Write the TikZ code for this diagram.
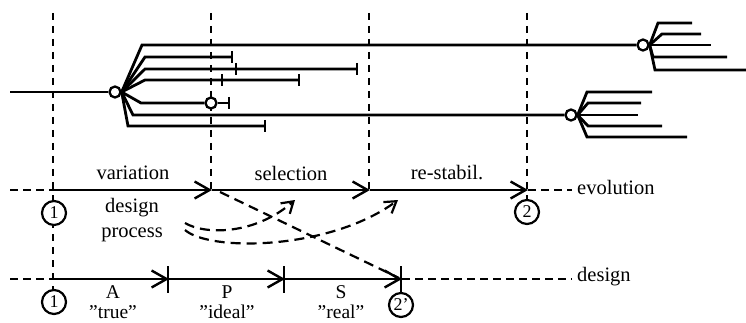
\documentclass[tikz,border=0pt]{standalone}
\usepackage{fontspec}
\setmainfont{Liberation Serif}
\usetikzlibrary{arrows.meta}
\begin{document}
\begin{tikzpicture}[x=1pt,y=-1pt,
  tree/.style={line width=2.8pt},
  knot/.style={circle,draw,line width=2.3pt,fill=white,minimum size=11pt,inner sep=0pt},
  bar/.style={line width=2.5pt},
  guide/.style={line width=1.8pt,dash pattern=on 7pt off 6pt},
  hdash/.style={line width=2.2pt,dash pattern=on 8pt off 5pt},
  evo/.style={line width=2.4pt,-{Straight Barb[length=15pt,width=17pt]}},
  dcurve/.style={line width=2.2pt,dash pattern=on 10pt off 6pt},
  dcarrow/.style={dcurve,-{Straight Barb[length=11pt,width=14pt]}},
  num/.style={circle,draw,line width=2.2pt,fill=white,minimum size=24pt,inner sep=0pt,font=\fontsize{18}{18}\selectfont},
  lbl/.style={font=\fontsize{20.5}{24}\selectfont,inner sep=0pt},
  plbl/.style={font=\fontsize{19.5}{20}\selectfont,inner sep=0pt,align=center,anchor=base}
]
\useasboundingbox (0,0) rectangle (746,323);

% vertical guides
\coordinate (g1t) at (53,13); \coordinate (g1b) at (53,292);
\coordinate (g2t) at (211,13); \coordinate (g2b) at (211,190);
\coordinate (g3t) at (369,13); \coordinate (g3b) at (369,190);
\coordinate (g4t) at (527,13); \coordinate (g4b) at (527,200);
\draw[guide] (g1t) -- (g1b);
\draw[guide] (g2t) -- (g2b);
\draw[guide] (g3t) -- (g3b);
\draw[guide] (g4t) -- (g4b);

% tree
\node[knot] (k0) at (115,92) {};
\node[knot] (k1) at (643,45) {};
\node[knot] (k2) at (211,103) {};
\node[knot] (k3) at (571,115) {};
\coordinate (root) at (10,92);
\draw[tree] (root) -- (k0.west);
\draw[tree] (k0.east) -- (142,45) -- (k1.west);
\draw[tree] (k0.east) -- (145,57) -- (232,57);
\draw[tree] (k0.east) -- (145,69) -- (357,69);
\draw[tree] (k0.east) -- (145,80) -- (299,80);
\draw[tree] (k0.east) -- (141,103) -- (k2.west);
\draw[tree] (k2.east) -- (229,103);
\draw[tree] (k0.east) -- (133,115) -- (k3.west);
\draw[tree] (k0.east) -- (128,126) -- (265,126);
\foreach \x/\y in {232/57,357/69,236/69,299/80,222/80,229/103,265/126}
  \draw[bar] (\x,\y-6) -- (\x,\y+6);

\draw[tree] (k1.east) -- (658,23) -- (692,23);
\draw[tree] (k1.east) -- (662,34) -- (701,34);
\draw[tree] (k1.east) -- (711,45);
\draw[tree] (k1.east) -- (653,57) -- (727,57);
\draw[tree] (k1.east) -- (655,70) -- (746,70);

\draw[tree] (k3.east) -- (587,92) -- (652,92);
\draw[tree] (k3.east) -- (588,103) -- (641,103);
\draw[tree] (k3.east) -- (638,115);
\draw[tree] (k3.east) -- (588,126) -- (662,126);
\draw[tree] (k3.east) -- (587,137) -- (687,137);

% evolution line
\coordinate (e0) at (10,190);
\coordinate (e1) at (53,190);
\coordinate (e2) at (212,190);
\coordinate (e3) at (370,190);
\coordinate (e4) at (528,190);
\coordinate (e5) at (572,190);
\draw[hdash] (e0) -- (e1);
\draw[evo] (e1) -- (e2);
\draw[evo] (e2) -- (e3);
\draw[evo] (e3) -- (e4);
\draw[hdash] (e4) -- (e5);

% design line
\coordinate (d0) at (10,279);
\coordinate (d1) at (53,279);
\coordinate (d2) at (169,279);
\coordinate (d3) at (285,279);
\coordinate (d4) at (402,279);
\coordinate (d5) at (572,279);
\draw[hdash] (d0) -- (d1);
\draw[evo] (d1) -- (d2);
\draw[evo] (d2) -- (d3);
\draw[evo] (d3) -- (d4);
\draw[hdash] (d4) -- (d5);
\foreach \x in {168,284,401}
  \draw[bar] (\x,266) -- (\x,293);

% dashed curves
\coordinate (c0) at (220,192); \coordinate (c1) at (399,278);
\draw[dcurve] (c0) -- (c1);
\coordinate (u0) at (185,223); \coordinate (u1) at (295,200);
\draw[dcarrow] (u0) .. controls (205,235) and (255,235) .. (u1);
\coordinate (l0) at (185,230); \coordinate (l1) at (398,200);
\draw[dcarrow] (l0) .. controls (210,252) and (330,250) .. (l1);

% numbered circles
\node[num] (n1) at (54,213) {1};
\node[num] (n2) at (527,212) {2};
\node[num] (m1) at (54,302) {1};
\node[num] (m2) at (401,305) {2'};

% labels
\node[lbl] (lv) at (133,173) {variation};
\node[lbl] (ls) at (291,173) {selection};
\node[lbl] (lr) at (447,173) {re-stabil.};
\node[lbl,anchor=west] (le) at (577,187) {evolution};
\node[lbl,anchor=west] (ld) at (577,277) {design};
\node[lbl,align=center] (lp) at (132,220) {design\\[1pt]process};
\node[plbl] (la) at (113,318) {A\\"true"};
\node[plbl] (lpp) at (227,318) {P\\"ideal"};
\node[plbl] (lss) at (341,318) {S\\"real"};
\end{tikzpicture}
\end{document}
